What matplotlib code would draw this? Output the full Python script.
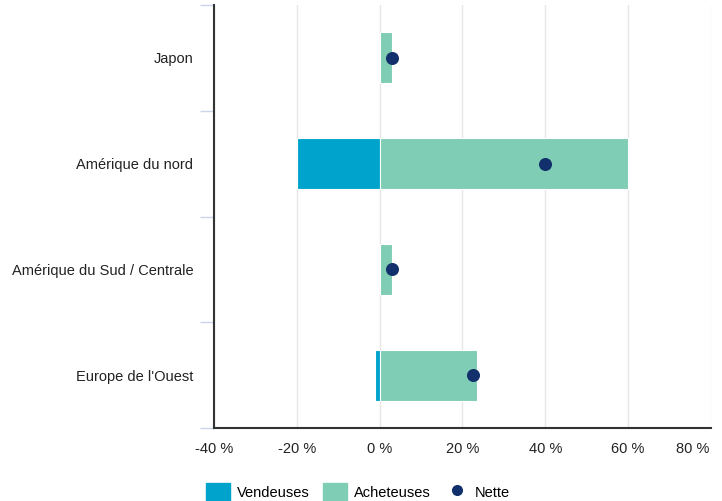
import matplotlib.pyplot as plt
from matplotlib.patches import Patch
from matplotlib.lines import Line2D
import matplotlib.transforms as mtransforms

regions = ['Japon', 'Amérique du nord', 'Amérique du Sud / Centrale', "Europe de l'Ouest"]
vendeuses = [0, -20, 0, -1.2]
acheteuses = [3, 60, 3, 23.5]
nette = [3, 40, 3, 22.5]
x_ticks = [-40, -20, 0, 20, 40, 60, 80]

c_vend = '#00a3cc'
c_ach = '#7ecdb4'
c_net = '#12306b'

plt.rcParams['font.family'] = ['Liberation Sans', 'DejaVu Sans']

fig = plt.figure(figsize=(7.22, 5.01), dpi=100)
ax = fig.add_axes([214 / 722, 1 - 428 / 501, (711 - 214) / 722, 423 / 501])

pos = list(range(len(regions)))
ax.barh(pos, vendeuses, height=0.48, color=c_vend, edgecolor='white', linewidth=0.8, zorder=2)
ax.barh(pos, acheteuses, height=0.48, color=c_ach, edgecolor='white', linewidth=0.8, zorder=2)
ax.scatter(nette, pos, s=70, color=c_net, zorder=3)

ax.set_xlim(-40, 80)
ax.set_ylim(len(regions) - 0.5, -0.5)
ax.set_xticks(x_ticks)
ax.set_xticklabels([f'{t} %' for t in x_ticks], fontsize=10.5, color='#222222')
ax.set_yticks(pos)
ax.set_yticklabels(regions, fontsize=10.5, color='#222222')
ax.set_yticks([p - 0.5 for p in pos] + [len(regions) - 0.5], minor=True)
ax.tick_params(axis='y', which='major', length=0, pad=15)
ax.tick_params(axis='y', which='minor', length=10, color='#ccd6eb', width=1)
ax.tick_params(axis='x', length=0, pad=10)

# last x label is pulled inside the figure, as in the original
last = ax.get_xticklabels()[-1]
last.set_horizontalalignment('right')
last.set_transform(last.get_transform() + mtransforms.ScaledTranslation(-2 / 100, 0, fig.dpi_scale_trans))

ax.grid(axis='x', color='#e6e6e6', linewidth=1, zorder=0)
ax.set_axisbelow(True)
for s in ['top', 'right']:
    ax.spines[s].set_visible(False)
ax.spines['left'].set_color('#333333')
ax.spines['left'].set_linewidth(1.5)
ax.spines['bottom'].set_color('#333333')
ax.spines['bottom'].set_linewidth(1.5)

handles = [
    Patch(color=c_vend, label='Vendeuses'),
    Patch(color=c_ach, label='Acheteuses'),
    Line2D([], [], marker='o', color='white', markerfacecolor=c_net, markersize=9, label='Nette'),
]
fig.legend(handles=handles, loc='center left', bbox_to_anchor=(193 / 722, 9 / 501), ncol=3,
           frameon=False, fontsize=10.5, handlelength=1.65, handleheight=1.5,
           columnspacing=0.95, handletextpad=0.45)

fig.savefig('out.png', dpi=100)
